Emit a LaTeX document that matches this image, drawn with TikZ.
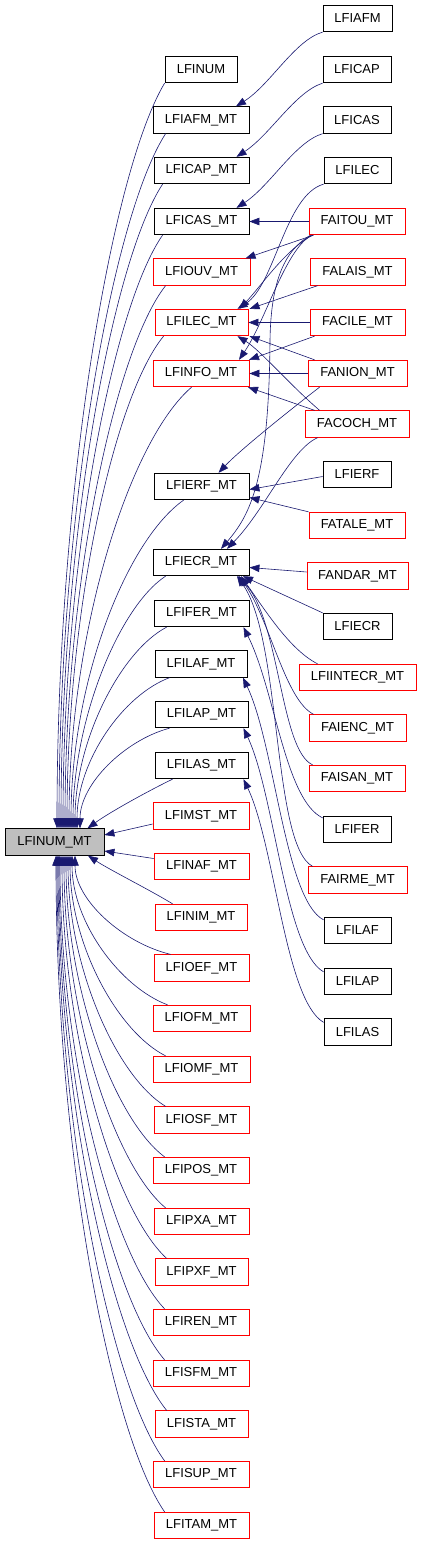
\documentclass[tikz,border=0pt]{standalone}
\usepackage{fontspec}
\setmainfont{Liberation Sans}
\usetikzlibrary{arrows.meta}
\definecolor{edgec}{RGB}{25,25,112}
\definecolor{rootfill}{RGB}{191,191,191}
\begin{document}
\begin{tikzpicture}[x=1pt,y=-1pt,
  nd/.style={draw, line width=0.8pt, inner sep=0pt, minimum height=26.5pt, font=\fontsize{13}{15}\selectfont},
  bk/.style={nd, draw=black},
  rd/.style={nd, draw=red},
  rt/.style={nd, draw=black, fill=rootfill},
  edg/.style={draw=edgec, line width=0.6pt, -{Triangle[length=10pt,width=7.5pt]}, fill=none}]
\useasboundingbox (0,0) rectangle (421,1544);
% root
\node[rt, minimum width=99pt] (root) at (54.5,842) {LFINUM\_MT};
% left column
\node[bk, minimum width=72pt] (lfinum) at (201,69.5) {LFINUM};
\node[bk, minimum width=96pt] (lfiafmmt) at (201,120) {LFIAFM\_MT};
\node[bk, minimum width=95pt] (lficapmt) at (201.5,170.5) {LFICAP\_MT};
\node[bk, minimum width=95pt] (lficasmt) at (201.5,221.5) {LFICAS\_MT};
\node[rd, minimum width=97pt] (lfiouvmt) at (201.5,272) {LFIOUV\_MT};
\node[rd, minimum width=93pt] (lfilecmt) at (201.5,322.5) {LFILEC\_MT};
\node[rd, minimum width=96pt] (lfinfomt) at (201,373.5) {LFINFO\_MT};
\node[bk, minimum width=95pt] (lfierfmt) at (201.5,486.5) {LFIERF\_MT};
\node[bk, minimum width=96pt] (lfiecrmt) at (201,562.5) {LFIECR\_MT};
\node[bk, minimum width=95pt] (lfifermt) at (201.5,613.5) {LFIFER\_MT};
\node[bk, minimum width=92pt] (lfilafmt) at (201,664) {LFILAF\_MT};
\node[bk, minimum width=93pt] (lfilapmt) at (201.5,714.5) {LFILAP\_MT};
\node[bk, minimum width=93pt] (lfilasmt) at (201.5,765.5) {LFILAS\_MT};
\node[rd, minimum width=96pt] (lfimstmt) at (201,816) {LFIMST\_MT};
\node[rd, minimum width=95pt] (lfinafmt) at (201.5,866.5) {LFINAF\_MT};
\node[rd, minimum width=92pt] (lfinimmt) at (201,917.5) {LFINIM\_MT};
\node[rd, minimum width=95pt] (lfioefmt) at (201.5,968) {LFIOEF\_MT};
\node[rd, minimum width=97pt] (lfiofmmt) at (201.5,1018.5) {LFIOFM\_MT};
\node[rd, minimum width=97pt] (lfiomfmt) at (201.5,1069.5) {LFIOMF\_MT};
\node[rd, minimum width=95pt] (lfiosfmt) at (201.5,1120) {LFIOSF\_MT};
\node[rd, minimum width=96pt] (lfiposmt) at (201,1170.5) {LFIPOS\_MT};
\node[rd, minimum width=95pt] (lfipxamt) at (201.5,1221.5) {LFIPXA\_MT};
\node[rd, minimum width=93pt] (lfipxfmt) at (201.5,1272) {LFIPXF\_MT};
\node[rd, minimum width=96pt] (lfirenmt) at (201,1322.5) {LFIREN\_MT};
\node[rd, minimum width=96pt] (lfisfmmt) at (201,1373.5) {LFISFM\_MT};
\node[rd, minimum width=93pt] (lfistamt) at (201.5,1424) {LFISTA\_MT};
\node[rd, minimum width=96pt] (lfisupmt) at (201,1474.5) {LFISUP\_MT};
\node[rd, minimum width=95pt] (lfitammt) at (201.5,1525.5) {LFITAM\_MT};
% right column
\node[bk, minimum width=69pt] (lfiafm) at (357.5,18.5) {LFIAFM};
\node[bk, minimum width=68pt] (lficap) at (357,69.5) {LFICAP};
\node[bk, minimum width=68pt] (lficas) at (357,120) {LFICAS};
\node[bk, minimum width=67pt] (lfilec) at (357.5,170.5) {LFILEC};
\node[rd, minimum width=96pt] (faitou) at (357,221.5) {FAITOU\_MT};
\node[rd, minimum width=95pt] (falais) at (357.5,272) {FALAIS\_MT};
\node[rd, minimum width=95pt] (facile) at (357.5,322.5) {FACILE\_MT};
\node[rd, minimum width=99pt] (fanion) at (357.5,373.5) {FANION\_MT};
\node[rd, minimum width=104pt] (facoch) at (357,424) {FACOCH\_MT};
\node[bk, minimum width=68pt] (lfierf) at (357,474.5) {LFIERF};
\node[rd, minimum width=96pt] (fatale) at (357,525.5) {FATALE\_MT};
\node[rd, minimum width=101pt] (fandar) at (357.5,576) {FANDAR\_MT};
\node[bk, minimum width=69pt] (lfiecr) at (357.5,626.5) {LFIECR};
\node[rd, minimum width=117pt] (lfiintecr) at (357.5,677.5) {LFIINTECR\_MT};
\node[rd, minimum width=97pt] (faienc) at (357.5,728) {FAIENC\_MT};
\node[rd, minimum width=96pt] (faisan) at (357,778.5) {FAISAN\_MT};
\node[bk, minimum width=68pt] (lfifer) at (357,829.5) {LFIFER};
\node[rd, minimum width=99pt] (fairme) at (357.5,880) {FAIRME\_MT};
\node[bk, minimum width=67pt] (lfilaf) at (357.5,930.5) {LFILAF};
\node[bk, minimum width=67pt] (lfilap) at (357.5,981.5) {LFILAP};
\node[bk, minimum width=67pt] (lfilas) at (357.5,1032) {LFILAS};

% left column -> root (top)
\draw[edg] (lfinum.south west) .. controls (111,173) and (57,493) .. ([xshift=2.5pt]root.north);
\draw[edg] ([xshift=13pt]lfiafmmt.south west) .. controls (112,217) and (59,516) .. ([xshift=4.5pt]root.north);
\draw[edg] ([xshift=9pt]lficapmt.south west) .. controls (112,261) and (61,539) .. ([xshift=6.5pt]root.north);
\draw[edg] ([xshift=9pt]lficasmt.south west) .. controls (113,306) and (63,562) .. ([xshift=8.5pt]root.north);
\draw[edg] ([xshift=13pt]lfiouvmt.south west) .. controls (115,350) and (65,584) .. ([xshift=10.5pt]root.north);
\draw[edg] ([xshift=9pt]lfilecmt.south west) .. controls (115,395) and (67,607) .. ([xshift=12.5pt]root.north);
\draw[edg] ([xshift=39pt]lfinfomt.south west) .. controls (130,440) and (69,630) .. ([xshift=14.5pt]root.north);
\draw[edg] ([xshift=30pt]lfierfmt.south west) .. controls (127,540) and (71,680) .. ([xshift=16.5pt]root.north);
\draw[edg] ([xshift=13pt]lfiecrmt.south west) .. controls (120,606) and (73,718) .. ([xshift=18.5pt]root.north);
\draw[edg] ([xshift=13pt]lfifermt.south west) .. controls (121,651) and (75,740) .. ([xshift=20.5pt]root.north);
\draw[edg] ([xshift=15pt]lfilafmt.south west) .. controls (123,695) and (77,761) .. ([xshift=22.5pt]root.north);
\draw[edg] ([xshift=15pt]lfilapmt.south west) .. controls (125,740) and (80,784) .. ([xshift=25.5pt]root.north);
\draw[edg] ([xshift=18pt]lfilasmt.south west) .. controls (150,790) and (110,812) .. ([xshift=33pt]root.north);
% left column -> root (side)
\draw[edg] ([yshift=-8pt]lfimstmt.west) -- ([yshift=7pt]root.east);
\draw[edg] ([yshift=8pt]lfinafmt.west) -- ([yshift=-9pt]root.east);
% left column -> root (bottom)
\draw[edg] ([xshift=18pt]lfinimmt.north west) .. controls (150,890) and (110,870) .. ([xshift=33.5pt]root.south);
\draw[edg] ([xshift=17pt]lfioefmt.north west) .. controls (123,943) and (75,900) .. ([xshift=20.5pt]root.south);
\draw[edg] ([xshift=15pt]lfiofmmt.north west) .. controls (120,987) and (72,922) .. ([xshift=17.5pt]root.south);
\draw[edg] ([xshift=13pt]lfiomfmt.north west) .. controls (118,1032) and (70,945) .. ([xshift=15.5pt]root.south);
\draw[edg] ([xshift=12pt]lfiosfmt.north west) .. controls (117,1077) and (68,968) .. ([xshift=13.5pt]root.south);
\draw[edg] ([xshift=12pt]lfiposmt.north west) .. controls (116,1121) and (66,991) .. ([xshift=11.5pt]root.south);
\draw[edg] ([xshift=12pt]lfipxamt.north west) .. controls (115,1166) and (64,1014) .. ([xshift=9.5pt]root.south);
\draw[edg] ([xshift=12pt]lfipxfmt.north west) .. controls (115,1211) and (62,1037) .. ([xshift=7.5pt]root.south);
\draw[edg] ([xshift=12pt]lfirenmt.north west) .. controls (113,1255) and (60,1059) .. ([xshift=5.5pt]root.south);
\draw[edg] ([xshift=12pt]lfisfmmt.north west) .. controls (112,1299) and (59,1082) .. ([xshift=4.5pt]root.south);
\draw[edg] ([xshift=12pt]lfistamt.north west) .. controls (113,1344) and (58,1105) .. ([xshift=3.5pt]root.south);
\draw[edg] ([xshift=12pt]lfisupmt.north west) .. controls (111,1388) and (57,1128) .. ([xshift=2.5pt]root.south);
\draw[edg] ([xshift=11pt]lfitammt.north west) .. controls (110,1433) and (56,1150) .. ([xshift=1.5pt]root.south);

% right column -> left column
\draw[edg] (lfiafm.south west) .. controls (295,40) and (270,85) .. ([xshift=35pt]lfiafmmt.north);
\draw[edg] (lficap.south west) .. controls (295,92) and (270,135) .. ([xshift=35pt]lficapmt.north);
\draw[edg] (lficas.south west) .. controls (295,142) and (270,186) .. ([xshift=35pt]lficasmt.north);
\draw[edg] (lfilec.south west) .. controls (285,195) and (275,285) .. ([xshift=36pt]lfilecmt.north);
\draw[edg] (faitou.west) -- (lficasmt.east);
\draw[edg] ([xshift=5pt]faitou.south west) -- ([xshift=44pt]lfiouvmt.north);
\draw[edg] ([xshift=4pt]faitou.south west) .. controls (285,250) and (262,285) .. ([xshift=38pt]lfilecmt.north);
\draw[edg] ([xshift=3pt]faitou.south west) .. controls (285,250) and (266,320) .. ([xshift=38pt]lfinfomt.north);
\draw[edg] ([xshift=2pt]faitou.south west) .. controls (285,250) and (271,280) .. (270,340) .. controls (269,480) and (250,515) .. ([xshift=20pt]lfiecrmt.north);
\draw[edg] ([xshift=8pt]falais.south west) -- ([xshift=48pt]lfilecmt.north);
\draw[edg] (facile.west) -- (lfilecmt.east);
\draw[edg] ([xshift=5pt]facile.south west) -- ([xshift=48pt]lfinfomt.north);
\draw[edg] ([xshift=7pt]fanion.north west) -- ([xshift=48pt]lfilecmt.south);
\draw[edg] ([xshift=15pt]facoch.north west) .. controls (290,385) and (260,350) .. ([xshift=36pt]lfilecmt.south);
\draw[edg] (fanion.west) -- (lfinfomt.east);
\draw[edg] ([xshift=10pt]facoch.north west) -- ([xshift=47pt]lfinfomt.south);
\draw[edg] ([xshift=12pt]fanion.south west) .. controls (290,410) and (240,450) .. ([xshift=17pt]lfierfmt.north);
\draw[edg] ([xshift=13pt]facoch.south west) .. controls (290,450) and (265,510) .. ([xshift=26pt]lfiecrmt.north);
\draw[edg] ([yshift=-2pt]lfierf.west) -- ([yshift=-3pt]lfierfmt.east);
\draw[edg] (fatale.north west) -- ([yshift=-11pt]lfierfmt.east);
\draw[edg] ([yshift=4pt]fandar.west) -- ([yshift=-5pt]lfiecrmt.east);
\draw[edg] (lfiecr.north west) -- ([xshift=42pt]lfiecrmt.south);
\draw[edg] ([xshift=19pt]lfiintecr.north west) .. controls (290,650) and (265,610) .. ([xshift=40pt]lfiecrmt.south);
\draw[edg] ([xshift=5pt]faienc.north west) .. controls (285,700) and (270,620) .. ([xshift=38pt]lfiecrmt.south);
\draw[edg] ([xshift=4pt]faisan.north west) .. controls (280,750) and (280,620) .. ([xshift=37pt]lfiecrmt.south);
\draw[edg] ([xshift=5pt]fairme.north west) .. controls (272,845) and (282,640) .. ([xshift=36pt]lfiecrmt.south);
\draw[edg] ([yshift=-2pt]lfifer.north west) .. controls (285,800) and (275,690) .. ([xshift=42pt]lfifermt.south);
\draw[edg] ([yshift=-3pt]lfilaf.north west) .. controls (285,900) and (275,745) .. ([xshift=42pt]lfilafmt.south);
\draw[edg] ([yshift=-4pt]lfilap.north west) .. controls (285,950) and (275,795) .. ([xshift=42pt]lfilapmt.south);
\draw[edg] ([yshift=-4pt]lfilas.north west) .. controls (285,1000) and (275,845) .. ([xshift=42pt]lfilasmt.south);
\end{tikzpicture}
\end{document}
